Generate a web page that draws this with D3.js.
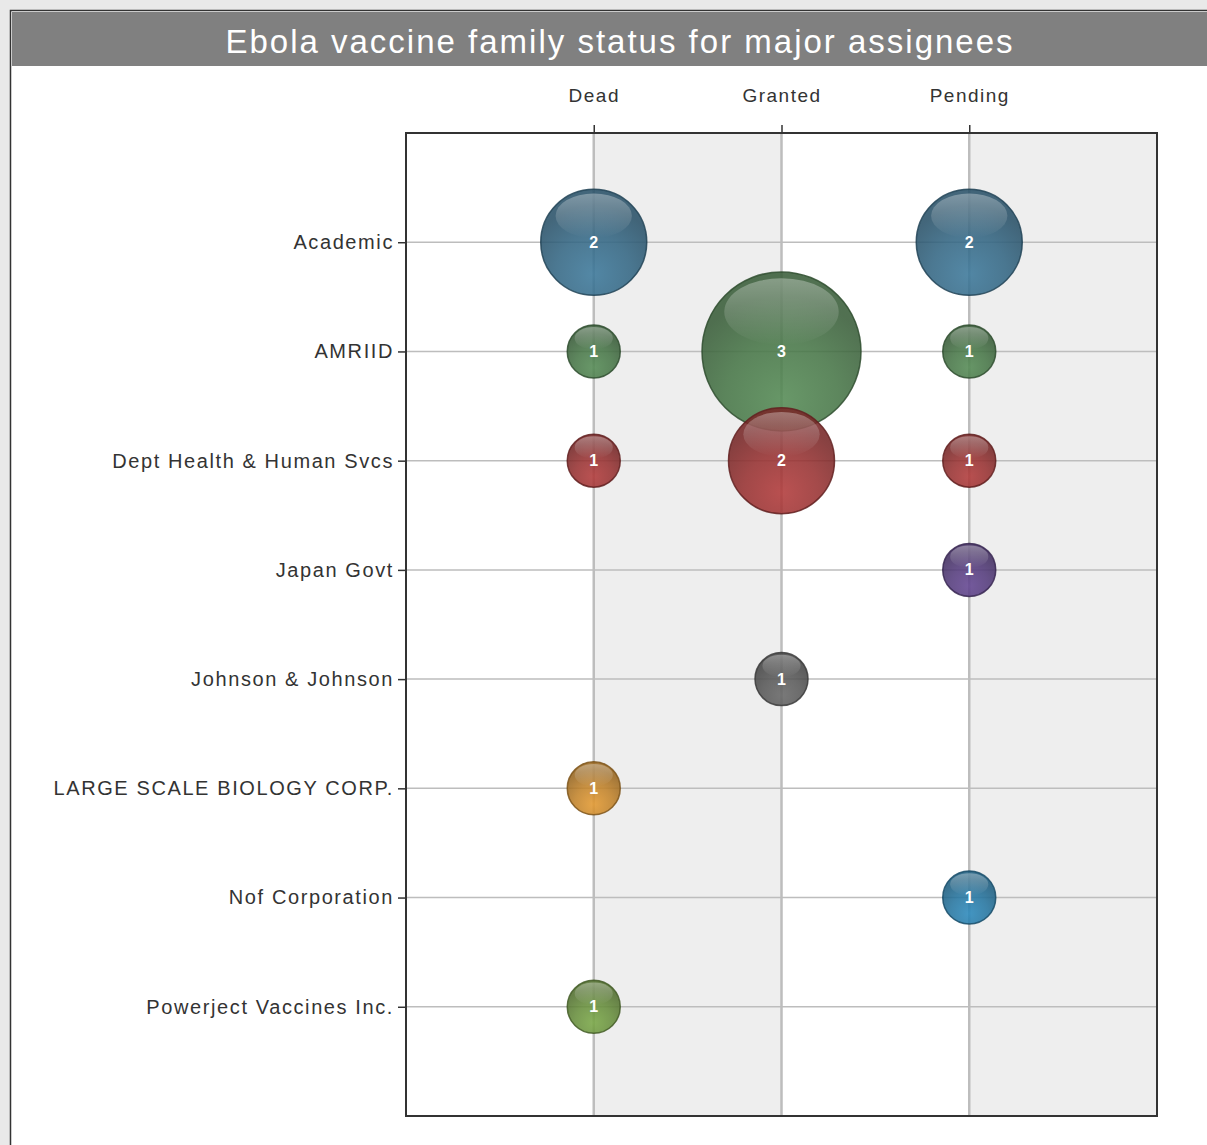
<!DOCTYPE html>
<html>
<head>
<meta charset="utf-8">
<script src="https://cdn.jsdelivr.net/npm/d3@7"></script>
<style>
  html, body { margin: 0; padding: 0; background: #e9e9e9; overflow: hidden; }
  svg { display: block; font-family: "Liberation Sans", Arial, sans-serif; }
</style>
</head>
<body>
<div id="chart"></div>
<script>
//data
const assignees = [
  "Academic",
  "AMRIID",
  "Dept Health & Human Svcs",
  "Japan Govt",
  "Johnson & Johnson",
  "LARGE SCALE BIOLOGY CORP.",
  "Nof Corporation",
  "Powerject Vaccines Inc.",
];
const statuses = ["Dead", "Granted", "Pending"];
// one entry per bubble: [assignee, status, count]
const familyCounts = [
  ["Academic", "Dead", 2],
  ["Academic", "Pending", 2],
  ["AMRIID", "Dead", 1],
  ["AMRIID", "Granted", 3],
  ["AMRIID", "Pending", 1],
  ["Dept Health & Human Svcs", "Dead", 1],
  ["Dept Health & Human Svcs", "Granted", 2],
  ["Dept Health & Human Svcs", "Pending", 1],
  ["Japan Govt", "Pending", 1],
  ["Johnson & Johnson", "Granted", 1],
  ["LARGE SCALE BIOLOGY CORP.", "Dead", 1],
  ["Nof Corporation", "Pending", 1],
  ["Powerject Vaccines Inc.", "Dead", 1],
];
const assigneeColors = [
  "#356a88", "#4a7a4a", "#9c3333", "#573d80",
  "#5b5b5b", "#c8872a", "#2679a6", "#6b933e",
];

//svg size
const width = 1207;
const height = 1145;
const plot = { left: 406, right: 1157, top: 133, bottom: 1116 };

const svg = d3.select("#chart")
  .append("svg")
  .attr("width", width)
  .attr("height", height);

//frame + title bar
svg.append("rect")
  .attr("x", 10.5).attr("y", 10.5)
  .attr("width", width + 20).attr("height", height + 20)
  .attr("fill", "#fff").attr("stroke", "#333").attr("stroke-width", 1.5);

svg.append("rect")
  .attr("x", 12).attr("y", 12)
  .attr("width", width).attr("height", 54)
  .attr("fill", "#808080");

svg.append("text")
  .attr("x", 620).attr("y", 41)
  .attr("text-anchor", "middle")
  .attr("dominant-baseline", "central")
  .attr("fill", "#fff")
  .attr("font-size", 33)
  .attr("letter-spacing", 2)
  .text("Ebola vaccine family status for major assignees");

//scales
const x = d3.scalePoint().domain(statuses).range([plot.left, plot.right]).padding(1);
const y = d3.scalePoint().domain(assignees).range([plot.top, plot.bottom]).padding(1);
const r = d3.scaleLinear().domain([0, 3]).range([0, 79.5]);
const color = d3.scaleOrdinal().domain(assignees).range(assigneeColors);

//alternating bands between category columns
const bandEdges = [plot.left, ...statuses.map((s) => x(s)), plot.right];
svg.append("g")
  .selectAll("rect")
  .data(d3.pairs(bandEdges))
  .join("rect")
  .attr("x", (d) => d[0])
  .attr("y", plot.top)
  .attr("width", (d) => d[1] - d[0])
  .attr("height", plot.bottom - plot.top)
  .attr("fill", (d, i) => (i % 2 ? "#eeeeee" : "#ffffff"));

//grid
const grid = svg.append("g").attr("stroke", "#bdbdbd");
grid.selectAll("line.h")
  .data(assignees)
  .join("line")
  .attr("class", "h")
  .attr("x1", plot.left).attr("x2", plot.right)
  .attr("y1", (d) => y(d)).attr("y2", (d) => y(d))
  .attr("stroke-width", 1.5);
grid.selectAll("line.v")
  .data(statuses)
  .join("line")
  .attr("class", "v")
  .attr("y1", plot.top).attr("y2", plot.bottom)
  .attr("x1", (d) => x(d)).attr("x2", (d) => x(d))
  .attr("stroke-width", 2.5);

//axes
const yAxis = svg.append("g")
  .attr("transform", `translate(${plot.left},0)`)
  .call(d3.axisLeft(y).tickSize(8).tickPadding(4));
const xAxis = svg.append("g")
  .attr("transform", `translate(0,${plot.top})`)
  .call(d3.axisTop(x).tickSize(8).tickPadding(23));
[xAxis, yAxis].forEach((ax) => {
  ax.select(".domain").remove();
  ax.selectAll(".tick line").attr("stroke", "#333").attr("stroke-width", 1.5);
  ax.selectAll(".tick text")
    .attr("fill", "#333")
    .attr("font-family", "'Liberation Sans', Arial, sans-serif");
});
yAxis.selectAll(".tick text").attr("font-size", 20).attr("letter-spacing", 1.6);
xAxis.selectAll(".tick text").attr("font-size", 19).attr("letter-spacing", 1.5);

//gradients for glossy bubbles
const defs = svg.append("defs");
assignees.forEach((a, i) => {
  const c = d3.color(color(a));
  const g = defs.append("radialGradient")
    .attr("id", `ball-${i}`)
    .attr("cx", "50%").attr("cy", "80%").attr("r", "65%");
  g.append("stop").attr("offset", "0%").attr("stop-color", c.brighter(0.35));
  g.append("stop").attr("offset", "55%").attr("stop-color", c.darker(0.1));
  g.append("stop").attr("offset", "100%").attr("stop-color", c.darker(0.75));
});
const shine = defs.append("linearGradient")
  .attr("id", "shine")
  .attr("x1", 0).attr("y1", 0).attr("x2", 0).attr("y2", 1);
shine.append("stop").attr("offset", "0%").attr("stop-color", "#fff").attr("stop-opacity", 0.32);
shine.append("stop").attr("offset", "100%").attr("stop-color", "#fff").attr("stop-opacity", 0.0);

//bubbles
const bubble = svg.append("g")
  .selectAll("g.bubble")
  .data(familyCounts)
  .join("g")
  .attr("class", "bubble")
  .attr("transform", (d) => `translate(${x(d[1])},${y(d[0])})`);

bubble.append("circle")
  .attr("r", (d) => r(d[2]))
  .attr("fill", (d) => `url(#ball-${assignees.indexOf(d[0])})`)
  .attr("fill-opacity", 0.88)
  .attr("stroke", (d) => d3.color(color(d[0])).darker(1.3))
  .attr("stroke-width", 1.5)
  .attr("stroke-opacity", 0.85);

bubble.append("ellipse")
  .attr("cy", (d) => -r(d[2]) * 0.5)
  .attr("rx", (d) => r(d[2]) * 0.72)
  .attr("ry", (d) => r(d[2]) * 0.42)
  .attr("fill", "url(#shine)");

bubble.append("text")
  .attr("text-anchor", "middle")
  .attr("dominant-baseline", "central")
  .attr("fill", "#fff")
  .attr("font-weight", "bold")
  .attr("font-size", 16)
  .text((d) => d[2]);

//plot border
svg.append("rect")
  .attr("x", plot.left).attr("y", plot.top)
  .attr("width", plot.right - plot.left)
  .attr("height", plot.bottom - plot.top)
  .attr("fill", "none")
  .attr("stroke", "#333")
  .attr("stroke-width", 2);
</script>
</body>
</html>
